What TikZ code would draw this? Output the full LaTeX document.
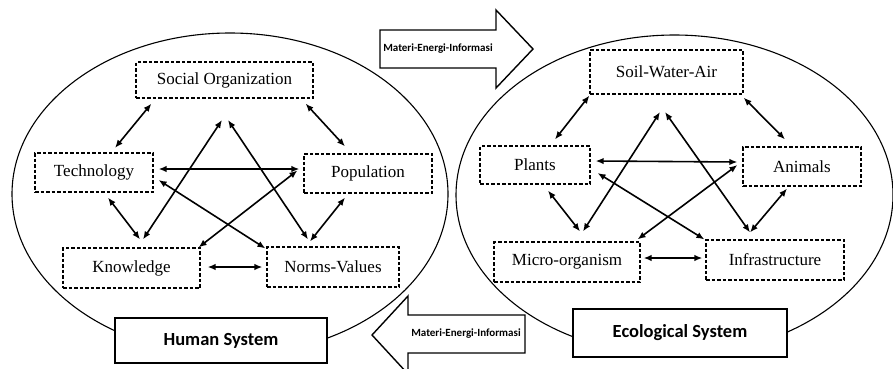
\documentclass[tikz,border=0pt]{standalone}
\usepackage{fontspec}
\setmainfont{Liberation Serif}
\newfontfamily\calibri{Carlito}
\usetikzlibrary{calc,arrows.meta}
\tikzset{
    factor/.style={draw,dash pattern=on 3.5pt off 2pt,line width=1.2pt,inner sep=0pt,font=\fontsize{17}{19}\selectfont},
    link/.style={{Latex[length=8pt,width=6.5pt]}-{Latex[length=8pt,width=6.5pt]},line width=1.6pt},
    sysbox/.style={draw,fill=white,line width=1.5pt,inner sep=0pt,font=\calibri\bfseries\fontsize{18.5}{20}\selectfont},
    flow/.style={draw,line width=1.4pt,fill=white,line join=miter},
    flowtext/.style={font=\calibri\bfseries\fontsize{11}{13}\selectfont},
  }

\begin{document}
\begin{tikzpicture}[x=1pt,y=-1pt]
				  \useasboundingbox (0,0) rectangle (893,368);
				  %the two systems
				  \draw[line width=1.1pt] (230,194) ellipse [x radius=218,y radius=161];
				  \draw[line width=1.1pt] (674.5,195) ellipse [x radius=218.5,y radius=160];
				  %flows between them
				  \draw[flow] (380,30) -- (496,30) -- (496,10) -- (533,49) -- (496,88) -- (496,68) -- (380,68) -- cycle;
				  \node[flowtext] (toEco) at (438,49) {Materi-Energi-Informasi};
				  \draw[flow] (525,315) -- (408,315) -- (408,296) -- (372,335) -- (408,374) -- (408,353) -- (525,353) -- cycle;
				  \node[flowtext] (toHum) at (466,334) {Materi-Energi-Informasi};
				  %human system
				  \node[factor,minimum width=177pt,minimum height=36pt] (so) at (224.5,80) {Social Organization};
				  \node[factor,minimum width=118pt,minimum height=39pt] (tech) at (94,172.5) {Technology};
				  \node[factor,minimum width=128pt,minimum height=39pt] (pop) at (368,173.5) {Population};
				  \node[factor,minimum width=137pt,minimum height=40pt] (know) at (131.5,268) {Knowledge};
				  \node[factor,minimum width=132pt,minimum height=40pt] (norms) at (333,267) {Norms-Values};
				  \coordinate (hsTop) at (225,120);
				  \draw[link] ($(so.south west)+(16,5)$) -- ($(tech.north)+(21,-4.5)$);
				  \draw[link] ($(so.south east)+(-8,5)$) -- ($(pop.north)+(-23,-7)$);
				  \draw[link] ($(tech.east)+(5,-3.5)$) -- ($(pop.west)+(-4,-4.5)$);
				  \draw[link] ($(tech.east)+(5,7.5)$) -- ($(norms.north west)+(-1,2)$);
				  \draw[link] ($(tech.south)+(14,5)$) -- ($(know.north)+(8.5,-8)$);
				  \draw[link] ($(pop.west)+(-6,-3)$) -- ($(know.north east)+(-2,0)$);
				  \draw[link] ($(pop.south)+(-23,4)$) -- ($(norms.north)+(-23,-5)$);
				  \draw[link] ($(know.east)+(7,-1)$) -- ($(norms.west)+(-4,0)$);
				  \draw[link] ($(hsTop)+(-3,0)$) -- ($(know.north)+(11.5,-8)$);
				  \draw[link] ($(hsTop)+(3,0)$) -- ($(norms.north)+(-25,-7)$);
				  %ecological system
				  \node[factor,minimum width=153pt,minimum height=44pt] (swa) at (666.5,72) {Soil-Water-Air};
				  \node[factor,minimum width=110pt,minimum height=38pt] (plants) at (535,165) {Plants};
				  \node[factor,minimum width=118pt,minimum height=39pt] (animals) at (802,166.5) {Animals};
				  \node[factor,minimum width=146pt,minimum height=40pt] (micro) at (567,262) {Micro-organism};
				  \node[factor,minimum width=138pt,minimum height=40pt] (infra) at (775,260) {Infrastructure};
				  \coordinate (esTop) at (662.5,112);
				  \draw[link] ($(swa.south west)+(0,1)$) -- ($(plants.north)+(20,-6)$);
				  \draw[link] ($(swa.south east)+(0,3)$) -- ($(animals.north)+(-17,-7)$);
				  \draw[link] ($(plants.east)+(5,-4)$) -- ($(animals.west)+(-5,-4.5)$);
				  \draw[link] ($(plants.east)+(7,8)$) -- ($(infra.north west)+(-1,0)$);
				  \draw[link] ($(plants.south)+(13,6)$) -- ($(micro.north)+(13,-10)$);
				  \draw[link] ($(animals.west)+(-5,-1.5)$) -- ($(micro.north east)+(-3,-2)$);
				  \draw[link] ($(animals.south)+(-15,2)$) -- ($(infra.north)+(-25,-7)$);
				  \draw[link] ($(micro.east)+(3,-4)$) -- ($(infra.west)+(-3,-2)$);
				  \draw[link] ($(esTop)+(-2.5,0)$) -- ($(micro.north)+(16,-10)$);
				  \draw[link] ($(esTop)+(2.5,0)$) -- ($(infra.north)+(-25,-7)$);
				  %system names
				  \node[sysbox,minimum width=212pt,minimum height=45pt] (hs) at (221,340.5) {Human System};
				  \node[sysbox,minimum width=214pt,minimum height=48pt] (es) at (680,333) {Ecological System};
				  \end{tikzpicture}
\end{document}
